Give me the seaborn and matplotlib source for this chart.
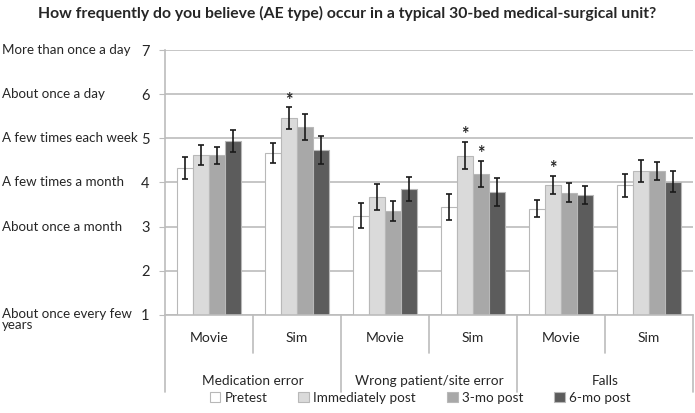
import matplotlib
matplotlib.use("Agg")
import matplotlib.pyplot as plt
import matplotlib.transforms as mtransforms
from matplotlib.patches import Patch
import pandas as pd
import seaborn as sns

title = "How frequently do you believe (AE type) occur in a typical 30-bed medical-surgical unit?"
events = ["Medication error", "Wrong patient/site error", "Falls"]
methods = ["Movie", "Sim"]
times = ["Pretest", "Immediately post", "3-mo post", "6-mo post"]

# one value per event/method, in order Med-Movie, Med-Sim, Wrong-Movie, Wrong-Sim, Falls-Movie, Falls-Sim
pretest = [4.32, 4.67, 3.25, 3.44, 3.41, 3.94]
immediate = [4.62, 5.46, 3.67, 4.61, 3.94, 4.26]
three_mo = [4.62, 5.25, 3.35, 4.19, 3.77, 4.26]
six_mo = [4.94, 4.73, 3.86, 3.78, 3.71, 4.02]

pretest_err = [0.25, 0.23, 0.28, 0.30, 0.20, 0.26]
immediate_err = [0.22, 0.24, 0.29, 0.31, 0.21, 0.25]
three_mo_err = [0.19, 0.29, 0.23, 0.30, 0.21, 0.20]
six_mo_err = [0.25, 0.32, 0.27, 0.32, 0.20, 0.24]

# significant results: (condition index, time index)
stars = [(1, 1), (3, 1), (3, 2), (4, 1)]

scale_labels = {7: "More than once a day", 6: "About once a day",
                5: "A few times each week", 4: "A few times a month",
                3: "About once a month", 1: "About once every few\nyears"}

colors = ["#ffffff", "#dadada", "#a8a8a8", "#5c5c5c"]
edge = "#b8b8b8"
grid = "#bcbcbc"

conds = [e + "|" + m for e in events for m in methods]
values = [pretest, immediate, three_mo, six_mo]
errs = [pretest_err, immediate_err, three_mo_err, six_mo_err]
rows = []
for t, vals in zip(times, values):
    for c, v in zip(conds, vals):
        rows.append({"cond": c, "time": t, "value": v})
df = pd.DataFrame(rows)

sns.set_style("white")
plt.rcParams['font.family'] = ['Lato', 'DejaVu Sans']

fig = plt.figure(figsize=(6.95, 4.13), dpi=100)
ax = fig.add_axes([165/695, 1-315/413, (693-165)/695, (315-50)/413])

sns.barplot(data=df, x="cond", y="value", hue="time", order=conds, hue_order=times,
            palette=colors, width=0.73, edgecolor=edge, linewidth=0.8,
            errorbar=None, legend=False, ax=ax)

bar_containers = list(ax.containers)
for ti, container in enumerate(bar_containers):
    for i, bar in enumerate(container):
        cx = bar.get_x() + bar.get_width()/2
        h = bar.get_height()
        ax.errorbar(cx, h, yerr=errs[ti][i], fmt='none', ecolor='#1a1a1a',
                    elinewidth=1.2, capsize=2.5, capthick=1.2)
        if (i, ti) in stars:
            ax.annotate("*", (cx, h + errs[ti][i]), xytext=(0, -1), textcoords='offset points',
                        ha='center', va='bottom', fontsize=13, fontweight='bold')

ax.set_xlim(-0.5, 5.5)
ax.set_ylim(1, 7)
ax.set_yticks(range(1, 8))
ax.yaxis.grid(True, color=grid, lw=1.2)
ax.set_axisbelow(True)
for s in ["top", "right"]:
    ax.spines[s].set_visible(False)
for s in ["left", "bottom"]:
    ax.spines[s].set_color(grid)
    ax.spines[s].set_linewidth(1.2)
ax.tick_params(axis='y', left=True, length=4, color=grid, labelsize=10.5, pad=7)
ax.set_xticks(range(6))
ax.set_xticklabels(methods * 3)
ax.tick_params(axis='x', length=0, labelsize=10, pad=12)
ax.set_xlabel("")
ax.set_ylabel("")

# two-level category separators
trans = mtransforms.blended_transform_factory(ax.transData, ax.transAxes)
for i in range(7):
    x = i - 0.5
    depth = 77/265 if i % 2 == 0 else 38/265
    ax.plot([x, x], [0, -depth], transform=trans, color=grid, lw=1.2, clip_on=False)
for k, e in enumerate(events):
    ax.text(2*k + 0.5, -66/265, e, transform=trans, ha='center', va='center', fontsize=9.8)

# descriptive scale labels on far left
trans2 = mtransforms.blended_transform_factory(fig.transFigure, ax.transData)
for v, lab in scale_labels.items():
    y = v if v != 1 else 0.9
    ax.text(2/695, y, lab, transform=trans2, ha='left', va='center', fontsize=9.6,
            linespacing=0.95)

fig.text(0.5, 1-13/413, title, ha='center', va='center', fontsize=11.3, fontweight='bold')

handles = [Patch(facecolor=c, edgecolor=edge, linewidth=0.8) for c in colors]
fig.legend(handles, times, loc='center', bbox_to_anchor=(420/695, 1-398/413), ncol=4,
           frameon=False, handlelength=0.8, handleheight=0.8, handletextpad=0.3,
           columnspacing=2.3, fontsize=9.7)

fig.savefig("out.png", dpi=100)
